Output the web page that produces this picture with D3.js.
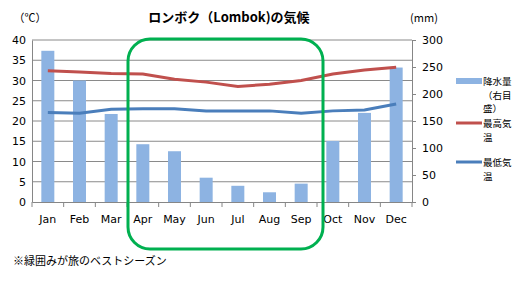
<!DOCTYPE html>
<html>
<head>
<meta charset="utf-8">
<script src="https://cdn.jsdelivr.net/npm/d3@7"></script>
<style>
  body { margin: 0; background: #fff; }
  text { font-family: "Noto Sans CJK JP", "DejaVu Sans", sans-serif; }
</style>
</head>
<body>
<div id="chart"></div>
<script>
// Data for the chart
const months = ['Jan', 'Feb', 'Mar', 'Apr', 'May', 'Jun', 'Jul', 'Aug', 'Sep', 'Oct', 'Nov', 'Dec'];
const rain = [280, 225, 163, 107, 94, 45, 30, 18, 34, 113, 165, 249];
const tempHigh = [32.4, 32.1, 31.7, 31.6, 30.3, 29.6, 28.5, 29.1, 30.0, 31.6, 32.6, 33.3];
const tempLow = [22.1, 21.9, 22.9, 23.0, 23.0, 22.5, 22.5, 22.5, 21.9, 22.5, 22.7, 24.2];
const leftTicks = [0, 5, 10, 15, 20, 25, 30, 35, 40];
const rightTicks = [0, 50, 100, 150, 200, 250, 300];

const width = 529;
const height = 283;
const plot = { left: 32, right: 412, top: 40, bottom: 202 };

const svg = d3.select('#chart').append('svg')
  .attr('width', width)
  .attr('height', height);

const x = d3.scaleBand()
  .domain(months)
  .range([plot.left, plot.right]);

const yTemp = d3.scaleLinear().domain([0, 40]).range([plot.bottom, plot.top]);
const yRain = d3.scaleLinear().domain([0, 300]).range([plot.bottom, plot.top]);

// gridlines
svg.append('g')
  .selectAll('line')
  .data(leftTicks.slice(1))
  .enter().append('line')
  .attr('x1', plot.left)
  .attr('x2', plot.right)
  .attr('y1', d => yTemp(d))
  .attr('y2', d => yTemp(d))
  .attr('stroke', '#8a8a8a')
  .attr('stroke-width', 1);

// bars
const barW = 13;
svg.append('g')
  .selectAll('rect')
  .data(rain)
  .enter().append('rect')
  .attr('x', (d, i) => x(months[i]) + x.bandwidth() / 2 - barW / 2)
  .attr('y', d => yRain(d))
  .attr('width', barW)
  .attr('height', d => plot.bottom - yRain(d))
  .attr('fill', '#8db3e2');

// lines
const line = d3.line()
  .x((d, i) => x(months[i]) + x.bandwidth() / 2)
  .y(d => yTemp(d));

svg.append('path')
  .datum(tempHigh)
  .attr('d', line)
  .attr('fill', 'none')
  .attr('stroke', '#c0504d')
  .attr('stroke-width', 3);

svg.append('path')
  .datum(tempLow)
  .attr('d', line)
  .attr('fill', 'none')
  .attr('stroke', '#4a7ebb')
  .attr('stroke-width', 3);

// axes
const axisStyle = g => {
  g.select('.domain').attr('stroke', '#868686');
  g.selectAll('.tick line').attr('stroke', '#868686');
  g.selectAll('.tick text').attr('fill', '#000').style('font-size', '11px')
    .style('font-family', '"DejaVu Sans", sans-serif');
};

svg.append('g')
  .attr('transform', `translate(${plot.left},0)`)
  .call(d3.axisLeft(yTemp).tickValues(leftTicks).tickSize(0).tickPadding(6).tickSizeOuter(0))
  .call(axisStyle);

svg.append('g')
  .attr('transform', `translate(${plot.right},0)`)
  .call(d3.axisRight(yRain).tickValues(rightTicks).tickSize(4).tickPadding(6).tickSizeOuter(0))
  .call(axisStyle);

const xAxis = svg.append('g')
  .attr('transform', `translate(0,${plot.bottom})`)
  .call(d3.axisBottom(x).tickSize(0).tickPadding(13))
  .call(axisStyle);

// category separator ticks
xAxis.selectAll('.sep')
  .data(d3.range(months.length + 1))
  .enter().append('line')
  .attr('class', 'sep')
  .attr('x1', i => plot.left + i * x.step())
  .attr('x2', i => plot.left + i * x.step())
  .attr('y1', 0)
  .attr('y2', 5)
  .attr('stroke', '#868686');

// titles
svg.append('text')
  .attr('x', 229).attr('y', 22)
  .attr('text-anchor', 'middle')
  .style('font-size', '13px')
  .style('font-weight', 'bold')
  .text('ロンボク（Lombok)の気候');

svg.append('text')
  .attr('x', 30).attr('y', 22)
  .attr('text-anchor', 'middle')
  .style('font-size', '11px')
  .text('（℃）');

svg.append('text')
  .attr('x', 424).attr('y', 22)
  .attr('text-anchor', 'middle')
  .style('font-size', '11px')
  .text('(mm)');

// best season box
const boxLeft = x('Apr') + 1;
const boxRight = x('Oct') + 6;
svg.append('rect')
  .attr('x', boxLeft)
  .attr('y', 39)
  .attr('width', boxRight - boxLeft)
  .attr('height', 210)
  .attr('rx', 22)
  .attr('ry', 22)
  .attr('fill', 'none')
  .attr('stroke', '#00b050')
  .attr('stroke-width', 3);

// legend
const legend = [
  { type: 'bar', color: '#8db3e2', lines: ['降水量', '（右目', '盛）'], y: 81 },
  { type: 'line', color: '#c0504d', lines: ['最高気', '温'], y: 123 },
  { type: 'line', color: '#4a7ebb', lines: ['最低気', '温'], y: 162 }
];

const lg = svg.append('g');
legend.forEach(item => {
  if (item.type === 'bar') {
    lg.append('rect')
      .attr('x', 456).attr('y', item.y - 3)
      .attr('width', 26).attr('height', 6)
      .attr('fill', item.color);
  } else {
    lg.append('line')
      .attr('x1', 456).attr('x2', 482)
      .attr('y1', item.y).attr('y2', item.y)
      .attr('stroke', item.color)
      .attr('stroke-width', 3);
  }
  item.lines.forEach((t, j) => {
    lg.append('text')
      .attr('x', 483)
      .attr('y', item.y + 4 + j * 13.5)
      .style('font-size', '9.5px')
      .text(t);
  });
});

// note
svg.append('text')
  .attr('x', 13).attr('y', 265)
  .style('font-size', '11px')
  .text('※緑囲みが旅のベストシーズン');
</script>
</body>
</html>
